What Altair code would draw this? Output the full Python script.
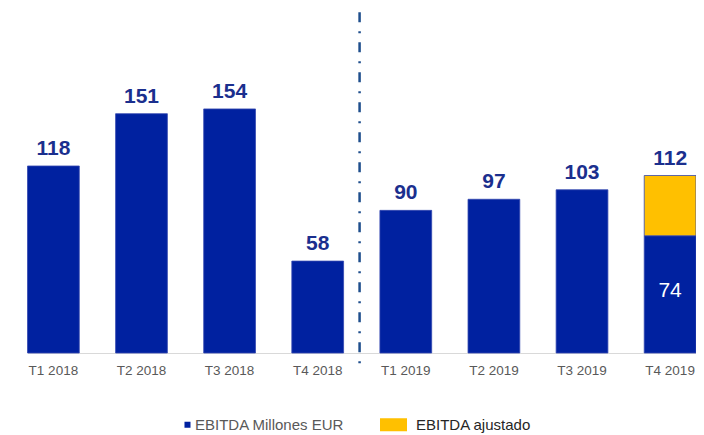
import altair as alt
import pandas as pd

cats = ["T1 2018", "T2 2018", "T3 2018", "T4 2018", "T1 2019", "T2 2019", "T3 2019", "T4 2019"]
ebitda = [118, 151, 154, 58, 90, 97, 103, 74]
ajustado = [0, 0, 0, 0, 0, 0, 0, 38]
totals = [118, 151, 154, 58, 90, 97, 103, 112]
series = ["EBITDA Millones EUR", "EBITDA ajustado"]
colors = ["#0021A0", "#FFC000"]
divider_after = ["T4 2018"]

rows = []
for c, a, b in zip(cats, ebitda, ajustado):
    rows.append({"cat": c, "serie": series[0], "val": a, "ord": 0})
    if b:
        rows.append({"cat": c, "serie": series[1], "val": b, "ord": 1})
df = pd.DataFrame(rows)
tot = pd.DataFrame({"cat": cats, "total": totals})
inner = pd.DataFrame([{"cat": c, "val": a, "mid": a / 2} for c, a, b in zip(cats, ebitda, ajustado) if b])
div = pd.DataFrame({"cat": divider_after})

FONT = "Liberation Sans"
xscale = alt.Scale(domain=cats, range=[19.5, 688], paddingInner=0.4124, paddingOuter=0, round=False)
yscale = alt.Scale(domain=[0, 217.7], nice=False, zero=True)
xenc = alt.X("cat:N", sort=cats, scale=xscale,
             axis=alt.Axis(title=None, labelAngle=0, ticks=False, domainColor="#D9D9D9",
                           domainWidth=1, labelColor="#595959", labelFontSize=13.5,
                           labelFont=FONT, labelPadding=10, grid=False))

legend = alt.Legend(title=None, orient="none", legendX=168, legendY=409, direction="horizontal",
                    symbolSize=196, labelFontSize=15, labelFont=FONT,
                    labelColor={"expr": "datum.label == 'EBITDA ajustado' ? '#262626' : '#595959'"},
                    labelOffset=4, columnPadding=35, symbolStrokeWidth=0, symbolOpacity=1)

shapes = ["M0.14,-0.43H1V0.43H0.14Z", "M-3.5,-0.93H0.36V0.93H-3.5Z"]

bars = alt.Chart(df).mark_bar(stroke="#3347B0", strokeWidth=0.8).encode(
    x=xenc,
    y=alt.Y("sum(val):Q", scale=yscale, axis=None, stack="zero"),
    color=alt.Color("serie:N", scale=alt.Scale(domain=series, range=colors), legend=legend),
    order=alt.Order("ord:Q"),
)

pts = alt.Chart(df).mark_point(filled=True, opacity=0, size=0).encode(
    x=alt.X("cat:N", sort=cats, scale=xscale),
    y=alt.Y("val:Q", scale=yscale),
    color=alt.Color("serie:N", scale=alt.Scale(domain=series, range=colors), legend=legend),
    shape=alt.Shape("serie:N", scale=alt.Scale(domain=series, range=shapes), legend=legend),
)

labels = alt.Chart(tot).mark_text(font=FONT, fontSize=21, fontWeight="bold", color="#1B2F8E",
                                  baseline="alphabetic", dy=-11).encode(
    x=alt.X("cat:N", sort=cats, scale=xscale),
    y=alt.Y("total:Q", scale=yscale),
    text=alt.Text("total:Q"),
)

inner_lbl = alt.Chart(inner).mark_text(font=FONT, fontSize=21, color="white",
                                       baseline="middle", dy=-3).encode(
    x=alt.X("cat:N", sort=cats, scale=xscale),
    y=alt.Y("mid:Q", scale=yscale),
    text=alt.Text("val:Q"),
)

rule = alt.Chart(div).mark_rule(color="#1F4E8C", strokeWidth=2.5, strokeDash=[10, 9, 2, 9],
                                xOffset=16).encode(
    x=alt.X("cat:N", sort=cats, scale=xscale, bandPosition=1),
    y=alt.datum(215),
    y2=alt.datum(-7),
)

chart = alt.layer(bars, pts, labels, inner_lbl, rule).properties(
    width=688, height=345,
    autosize=alt.AutoSizeParams(type="none"),
    padding={"left": 0, "top": 0, "right": 0, "bottom": 82},
).configure_view(stroke=None)

chart.save("out.html", embed_options={"renderer": "svg", "actions": False})
